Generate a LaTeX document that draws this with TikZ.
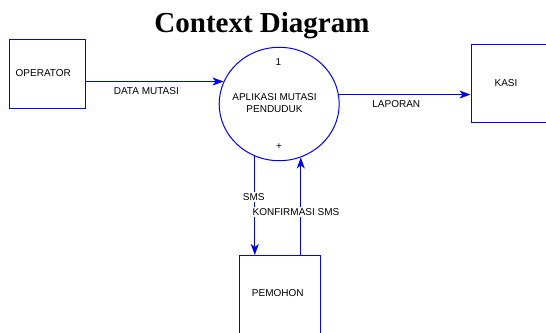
\documentclass[tikz,border=0pt]{standalone}
\usepackage{fontspec}
\setmainfont{Liberation Sans}
\newfontfamily\titlefont{Liberation Serif}
\usetikzlibrary{shapes.geometric,arrows.meta}
\definecolor{dfdblue}{RGB}{0,0,255}
\tikzset{
  entity/.style={draw=dfdblue, line width=1pt, rectangle, inner sep=0pt},
  process/.style={draw=dfdblue, line width=1pt, ellipse, inner sep=0pt, minimum width=120pt, minimum height=113.4pt},
  ptext/.style={font=\fontsize{10}{12}\selectfont, align=center, inner sep=0pt},
  flow/.style={draw=dfdblue, line width=1pt, -{Stealth[length=11pt,width=8pt,inset=3pt]}},
  flowlabel/.style={font=\fontsize{10}{12}\selectfont, inner sep=1.5pt},
  masklabel/.style={flowlabel, fill=white}
}
\begin{document}
\begin{tikzpicture}[x=1pt,y=-1pt]
\useasboundingbox (0,0) rectangle (546,332);
\clip (0,0) rectangle (546,332);
\fill[white] (0,0) rectangle (546,332);
\node[anchor=base, font=\titlefont\bfseries\fontsize{29}{34}\selectfont, inner sep=0pt] (title) at (262,32.5) {Context Diagram};
\node[entity, minimum width=76pt, minimum height=69pt] (op) at (47,73.8) {};
\node[ptext] (optext) at (43.3,72.7) {OPERATOR};
\node[entity, minimum width=75pt, minimum height=77.3pt] (kasi) at (508.5,83.4) {};
\node[ptext] (kasitext) at (506,82.7) {KASI};
\node[entity, minimum width=80.7pt, minimum height=78pt] (pem) at (279.7,294.5) {};
\node[ptext] (pemtext) at (277.8,293.3) {PEMOHON};
\node[process] (proc) at (279.2,104) {};
\node[ptext] (pnum) at (278.3,61.7) {1};
\node[ptext] (pname) at (274.5,103) {APLIKASI MUTASI\\PENDUDUK};
\node[ptext] (pplus) at (279,146.7) {+};
\draw[flow] (op.east |- proc.158) -- (proc.158);
\draw[flow] (proc.9) -- (proc.9 -| kasi.west);
\draw[flow] (proc.-115) -- (proc.-115 |- pem.north);
\draw[flow] (proc.-68 |- pem.north) -- (proc.-68);
\node[flowlabel] (l1) at (146.3,91) {DATA MUTASI};
\node[flowlabel] (l2) at (396.3,104) {LAPORAN};
\node[masklabel] (l3) at (253.8,197.3) {SMS};
\node[masklabel] (l4) at (296,211.7) {KONFIRMASI SMS};
\end{tikzpicture}
\end{document}
